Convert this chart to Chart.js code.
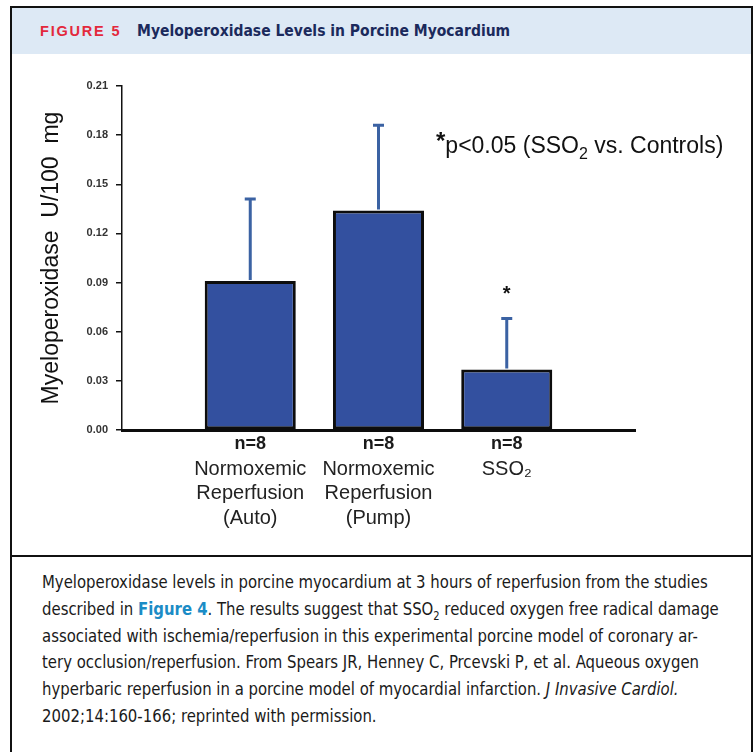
<!DOCTYPE html>
<html>
<head>
<meta charset="utf-8">
<script src="https://cdn.jsdelivr.net/npm/chart.js@4.4.1/dist/chart.umd.min.js"></script>
<style>
  html, body { margin: 0; padding: 0; background: #fff; }
  body { width: 756px; height: 752px; position: relative; overflow: hidden; }
  #card { position: absolute; left: 10px; top: 6px; width: 739px; height: 780px; border: 2px solid #111; }
  #head { position: absolute; left: 12px; top: 8px; width: 739px; height: 46px; background: #dde9f5; }
  #head .fig { position: absolute; left: 28px; top: 15px; font: bold 14.5px "Liberation Sans", Arial, sans-serif; color: #e3283c; letter-spacing: 1.8px; }
  #head .ttl { position: absolute; left: 125px; top: 14px; font: bold 15.5px "DejaVu Sans Condensed", sans-serif; color: #1b2a5c; }
  #rule { position: absolute; left: 12px; top: 555px; width: 739px; height: 2px; background: #111; }
  #wrap { position: absolute; left: 0; top: 56px; width: 756px; height: 499px; }
  #note { position: absolute; left: 436px; top: 131px; font: 23px "Liberation Sans", Arial, sans-serif; color: #111; white-space: nowrap; }
  #note .ast { font-size: 24px; font-weight: bold; position: relative; top: -4px; }
  #note sub { font-size: 16px; line-height: 0; }
  #caption { position: absolute; left: 42px; top: 569px; font: 18px "DejaVu Sans Condensed", sans-serif; line-height: 26.8px; color: #1a1a1a; white-space: nowrap; transform: scaleX(0.92); transform-origin: left top; }
  #caption b { color: #1b8cc6; }
  #caption sub { font-size: 12px; line-height: 0; }
</style>
</head>
<body>
<div id="card"></div>
<div id="head"><span class="fig">FIGURE 5</span><span class="ttl">Myeloperoxidase Levels in Porcine Myocardium</span></div>
<div id="wrap"><canvas id="myChart"></canvas></div>
<div id="note"><span class="ast">*</span>p&lt;0.05 (SSO<sub>2</sub> vs. Controls)</div>
<div id="rule"></div>
<div id="caption">
Myeloperoxidase levels in porcine myocardium at 3 hours of reperfusion from the studies<br>
described in <b>Figure 4</b>. The results suggest that SSO<sub>2</sub> reduced oxygen free radical damage<br>
associated with ischemia/reperfusion in this experimental porcine model of coronary ar-<br>
tery occlusion/reperfusion. From Spears JR, Henney C, Prcevski P, et al. Aqueous oxygen<br>
hyperbaric reperfusion in a porcine model of myocardial infarction. <i>J Invasive Cardiol.</i><br>
2002;14:160-166; reprinted with permission.
</div>
<script>
// Datos (las posiciones 0 y 4 quedan vacías para centrar las barras como en la figura)
const groups = ['', ['Normoxemic', 'Reperfusion', '(Auto)'], ['Normoxemic', 'Reperfusion', '(Pump)'], ['SSO₂'], '']
const groupSizes = ['', 'n=8', 'n=8', 'n=8', '']
const mpoLevels = [null, 0.091, 0.134, 0.037, null]
const mpoErrors = [null, 0.050, 0.052, 0.031, null]
const sigMarks = ['', '', '', '*', '']
const yTicks = [0.00, 0.03, 0.06, 0.09, 0.12, 0.15, 0.18, 0.21]

const font = '"Liberation Sans", Arial, sans-serif'

// Barras de error, n=8 y asterisco
const extras = {
  id: 'extras',
  afterDatasetsDraw(chart) {
    const {ctx, chartArea} = chart
    const y = chart.scales.y
    const meta = chart.getDatasetMeta(0)
    ctx.save()
    meta.data.forEach((bar, i) => {
      if (mpoLevels[i] == null) return
      const top = y.getPixelForValue(mpoLevels[i] + mpoErrors[i])
      ctx.strokeStyle = '#3b62a3'
      ctx.lineWidth = 3
      ctx.beginPath()
      ctx.moveTo(bar.x, bar.y - 1)
      ctx.lineTo(bar.x, top)
      ctx.moveTo(bar.x - 5.5, top)
      ctx.lineTo(bar.x + 5.5, top)
      ctx.stroke()
      if (sigMarks[i]) {
        ctx.fillStyle = '#111'
        ctx.font = `bold 20px ${font}`
        ctx.textAlign = 'center'
        ctx.textBaseline = 'middle'
        ctx.fillText(sigMarks[i], bar.x, top - 24)
      }
    })
    const x = chart.scales.x
    ctx.fillStyle = '#1a1a1a'
    ctx.font = `bold 18px ${font}`
    ctx.textAlign = 'center'
    ctx.textBaseline = 'middle'
    groupSizes.forEach((s, i) => {
      if (s) ctx.fillText(s, x.getPixelForValue(i), chartArea.bottom + 14)
    })
    ctx.restore()
  }
}

const data = {
  labels: groups,
  datasets: [{
    data: mpoLevels,
    backgroundColor: '#33509f',
    borderColor: '#0d0d0d',
    borderWidth: 3,
    borderSkipped: false,
    barPercentage: 0.71,
    categoryPercentage: 1
  }]
}

const config = {
  type: 'bar',
  data: data,
  options: {
    responsive: true,
    maintainAspectRatio: false,
    animation: false,
    layout: { padding: { left: 38, right: 121, top: 30, bottom: 0 } },
    plugins: { legend: { display: false }, tooltip: { enabled: false } },
    scales: {
      x: {
        offset: false,
        grid: { display: false, drawTicks: false },
        border: { display: true, color: '#0d0d0d', width: 3 },
        ticks: {
          autoSkip: false,
          maxRotation: 0,
          padding: 27,
          color: '#222',
          font: { family: font, size: 20, lineHeight: 1.225 }
        },
        afterFit: scale => { scale.height = 125 }
      },
      y: {
        min: 0,
        max: 0.21,
        afterBuildTicks: scale => { scale.ticks = yTicks.map(v => ({value: v})) },
        grid: { display: true, drawOnChartArea: false, drawTicks: true, tickLength: 6, color: '#111', lineWidth: 1.5 },
        border: { display: true, color: '#111', width: 1.5 },
        ticks: {
          padding: 8,
          color: '#333',
          font: { family: font, size: 11, weight: 'bold' },
          callback: v => v.toFixed(2)
        },
        title: {
          display: true,
          text: 'Myeloperoxidase  U/100  mg',
          color: '#111',
          padding: 0,
          font: { family: font, size: 23 }
        },
        afterFit: scale => { scale.width = 84 }
      }
    }
  },
  plugins: [extras]
}

const myChart = new Chart(document.getElementById('myChart'), config)
</script>
</body>
</html>
